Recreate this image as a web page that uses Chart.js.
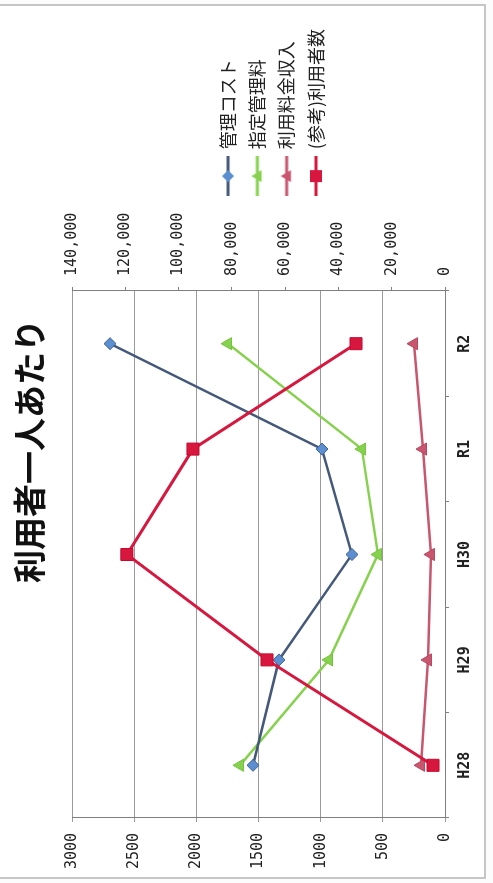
<!DOCTYPE html>
<html><head><meta charset="utf-8">
<script src="https://cdn.jsdelivr.net/npm/chart.js@4"></script>
<style>
html,body{margin:0;padding:0;background:#fcfcfc;width:493px;height:883px;overflow:hidden;}
#frame{position:absolute;left:-3px;top:4px;width:485px;height:871px;border:2px solid #c6c6c6;background:#fff;}
#wrap{position:absolute;left:0;top:0;width:883px;height:493px;transform-origin:0 0;transform:translate(0,883px) rotate(-90deg);}
</style></head><body>
<div id="frame"></div>
<div id="wrap"><canvas id="c" width="883" height="493"></canvas></div>
<script>
const categories = ['H28', 'H29', 'H30', 'R1', 'R2'];
const managementCost = [1544, 1335, 748, 989, 2694];
const designatedFee = [1649, 933, 539, 668, 1745];
const usageIncome = [193, 137, 113, 177, 249];
const users = [4500, 66800, 119400, 94600, 33400];
const leftTicks = [0, 500, 1000, 1500, 2000, 2500, 3000];
const rightTicks = [0, 20000, 40000, 60000, 80000, 100000, 120000, 140000];
const seriesNames = ['管理コスト', '指定管理料', '利用料金収入', '(参考)利用者数'];

const styles = [
  {line: '#44597a', fill: '#5b8fd0', edge: '#3d5f93', shape: 'rectRot', r: 6, w: 2.5},
  {line: '#86d24e', fill: '#86d24e', edge: '#76c23e', shape: 'triangle', r: 7, w: 2.5},
  {line: '#c9566f', fill: '#c9566f', edge: '#b9465f', shape: 'triangle', r: 7, w: 2.5},
  {line: '#d8173f', fill: '#d8173f', edge: '#c8072f', shape: 'rect', r: 8.5, w: 3}
];

function makeIcon(s) {
  const c = document.createElement('canvas');
  c.width = 40; c.height = 20;
  const g = c.getContext('2d');
  g.strokeStyle = s.line; g.lineWidth = 3;
  g.beginPath(); g.moveTo(0, 10); g.lineTo(40, 10); g.stroke();
  g.fillStyle = s.fill;
  g.beginPath();
  const r = 6;
  if (s.shape === 'rectRot') { g.moveTo(20, 10 - r); g.lineTo(20 + r, 10); g.lineTo(20, 10 + r); g.lineTo(20 - r, 10); }
  else if (s.shape === 'triangle') { g.moveTo(20, 10 - r); g.lineTo(20 + r, 10 + r * 0.7); g.lineTo(20 - r, 10 + r * 0.7); }
  else { g.rect(20 - r, 10 - r, 2 * r, 2 * r); }
  g.closePath(); g.fill();
  return c;
}
const icons = styles.map(makeIcon);

const values = [managementCost, designatedFee, usageIncome, users];
const axisIds = ['y', 'y', 'y', 'y2'];
const orders = [1, 2, 3, 0];

const datasets = values.map((v, i) => ({
  label: seriesNames[i],
  data: v,
  yAxisID: axisIds[i],
  order: orders[i],
  borderColor: styles[i].line,
  borderWidth: styles[i].w,
  backgroundColor: styles[i].fill,
  pointStyle: styles[i].shape,
  pointRadius: styles[i].r,
  pointBackgroundColor: styles[i].fill,
  pointBorderColor: styles[i].edge,
  pointBorderWidth: 1,
  tension: 0,
  fill: false
}));

const numFont = {family: "'DejaVu Sans Mono', monospace", size: 15};

const legendWidthPlugin = {
  id: 'legendWidth',
  beforeLayout(chart) {
    const lg = chart.legend;
    if (lg && !lg._wide) {
      const orig = lg.update.bind(lg);
      lg.update = (mw, mh, m) => orig(Math.max(mw, 230), mh, m);
      lg._wide = true;
    }
  }
};

new Chart(document.getElementById('c'), {
  type: 'line',
  data: {labels: categories, datasets},
  plugins: [legendWidthPlugin],
  options: {
    responsive: false,
    animation: false,
    layout: {padding: {left: 0, right: 19, top: 0, bottom: 0}},
    plugins: {
      title: {
        display: true,
        text: '利用者一人あたり',
        color: '#111',
        font: {family: "'Noto Sans CJK JP', sans-serif", size: 33, weight: 'bold'},
        padding: {top: 9.5, bottom: 22.9}
      },
      legend: {
        position: 'right',
        title: {display: true, text: ' ', font: {size: 12}, padding: {top: 18, bottom: 18.6}},
        labels: {
          usePointStyle: true,
          pointStyleWidth: 36,
          padding: 11.3,
          color: '#222',
          font: {family: "'Noto Sans CJK JP', sans-serif", size: 18},
          sort: (a, b) => a.datasetIndex - b.datasetIndex,
          generateLabels(chart) {
            const items = Chart.defaults.plugins.legend.labels.generateLabels(chart);
            items.forEach(it => { it.pointStyle = icons[it.datasetIndex]; });
            return items;
          }
        }
      },
      tooltip: {enabled: false}
    },
    scales: {
      x: {
        offset: true,
        grid: {display: true, drawOnChartArea: false, offset: true, tickLength: 4, color: '#7f7f7f'},
        border: {display: true, color: '#7f7f7f'},
        ticks: {color: '#222', font: {family: "'DejaVu Sans Mono', monospace", size: 15, weight: 'bold'}, padding: 7, maxRotation: 0},
        afterFit: s => { s.height = 48; }
      },
      y: {
        position: 'left',
        min: 0, max: 3000,
        afterBuildTicks: s => { s.ticks = leftTicks.map(v => ({value: v})); },
        grid: {color: '#9a9a9a', tickLength: 4, lineWidth: 1},
        border: {display: true, color: '#7f7f7f'},
        ticks: {color: '#222', font: numFont, padding: 11, callback: v => String(v)},
        afterFit: s => { s.width = 65; }
      },
      y2: {
        position: 'right',
        min: 0, max: 140000,
        afterBuildTicks: s => { s.ticks = rightTicks.map(v => ({value: v})); },
        grid: {drawOnChartArea: false, tickLength: 4, color: '#7f7f7f'},
        border: {display: true, color: '#7f7f7f'},
        ticks: {color: '#222', font: numFont, padding: 11, callback: v => v.toLocaleString('en-US')},
        afterFit: s => { s.width = 85.5; }
      }
    }
  }
});
</script>
</body></html>
